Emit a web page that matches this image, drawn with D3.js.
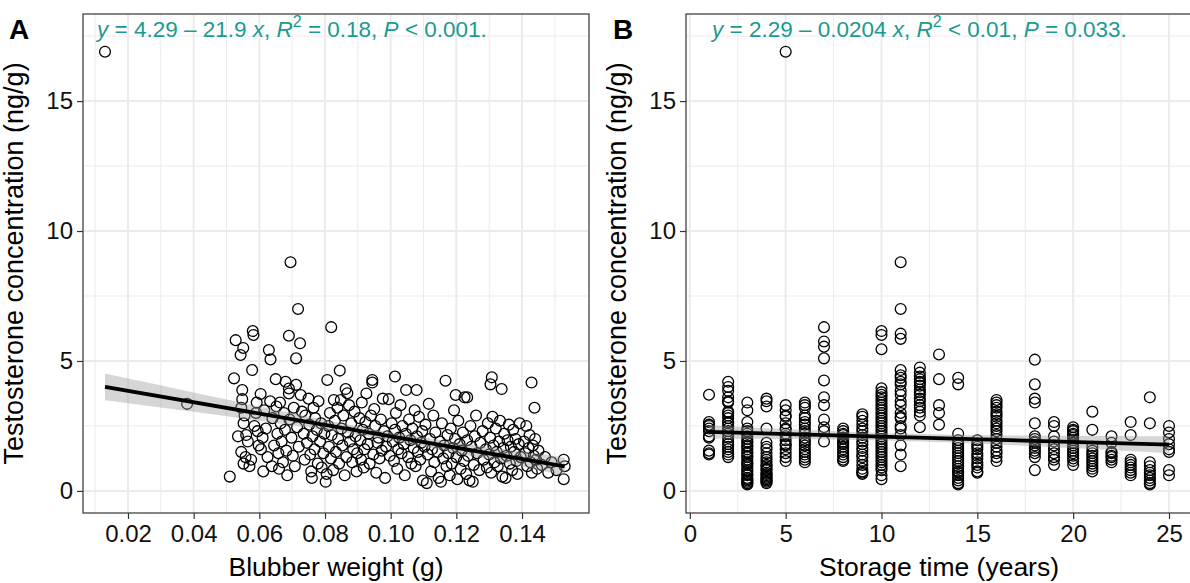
<!DOCTYPE html>
<html>
<head>
<meta charset="utf-8">
<script src="https://cdn.jsdelivr.net/npm/d3@7"></script>
<style>
  body { margin: 0; background: #fff; }
  svg { display: block; }
  text { font-family: "Liberation Sans", Arial, Helvetica, sans-serif; }
</style>
</head>
<body>
<svg id="chart" width="1190" height="583"></svg>
<script>
// Testosterone concentration (ng/g) against blubber sample weight (g)
const blubberPoints = [
  [0.013,16.9],[0.038,3.35],[0.051,0.55],
  [0.0528,5.8],[0.0551,5.5],[0.0543,5.23],[0.058,6.15],[0.0582,6.0],[0.0578,4.65],[0.0523,4.33],
  [0.0548,3.88],[0.0548,3.53],[0.0545,3.2],[0.0555,2.9],[0.0552,2.6],[0.0535,2.1],[0.056,2.15],
  [0.0565,1.9],[0.0545,1.5],[0.0558,1.3],[0.0552,1.05],[0.0585,2.5],[0.059,3.0],[0.0575,1.2],
  [0.057,0.95],[0.0598,1.75],[0.0595,2.3],[0.0592,3.4],
  [0.0604,3.73],[0.0629,5.42],[0.0634,5.06],[0.0633,3.45],[0.0615,3.1],[0.061,2.05],[0.0605,1.6],
  [0.0612,0.75],[0.062,2.4],[0.0625,1.3],[0.0638,0.95],[0.064,2.8],[0.0645,1.75],[0.065,4.3],
  [0.0652,3.25],[0.0655,2.2],[0.0658,1.45],[0.066,0.85],[0.0663,3.4],[0.0665,2.6],[0.0668,1.9],
  [0.0672,1.1],[0.0675,3.0],[0.0678,2.35],[0.068,4.2],[0.0682,1.55],[0.0685,0.6],[0.069,5.97],
  [0.069,3.94],[0.069,3.75],[0.0695,8.8],[0.0692,2.75],[0.0698,2.05],
  [0.0712,5.1],[0.0718,7.0],[0.0724,5.68],[0.0712,4.08],[0.0726,3.69],[0.0705,3.2],[0.0702,1.35],
  [0.0708,0.95],[0.0715,2.45],[0.072,1.7],[0.073,3.05],[0.0735,2.2],[0.0738,1.2],[0.074,2.9],
  [0.0745,1.85],[0.075,3.55],[0.0752,2.55],[0.0755,1.4],[0.0758,0.75],[0.076,0.5],[0.0762,2.1],
  [0.0765,3.2],[0.0768,1.6],[0.077,2.8],[0.0775,2.35],[0.0778,1.05],[0.078,3.45],[0.0785,1.9],
  [0.0788,2.6],[0.079,0.9],[0.0795,1.45],[0.0798,2.2],
  [0.0807,4.27],[0.0819,6.3],[0.0845,4.63],[0.0827,3.5],[0.0848,3.5],[0.0863,3.92],[0.0868,3.76],
  [0.0802,0.35],[0.0805,0.65],[0.081,2.5],[0.0812,1.7],[0.0815,3.0],[0.0818,1.25],[0.082,2.15],
  [0.0825,0.8],[0.083,2.7],[0.0833,1.5],[0.0838,3.2],[0.084,2.0],[0.0843,1.05],[0.085,2.4],
  [0.0853,1.75],[0.0856,2.9],[0.086,0.6],[0.0865,1.3],[0.087,2.25],[0.0873,3.3],[0.0876,1.9],
  [0.088,2.6],[0.0883,1.1],[0.0886,1.6],[0.089,3.05],[0.0893,2.1],[0.0896,0.75],[0.0898,1.45],
  [0.0944,4.27],[0.0944,4.17],[0.0905,2.8],[0.0908,1.95],[0.091,1.2],[0.0912,3.4],[0.0915,2.35],
  [0.0918,0.9],[0.092,1.6],[0.0923,2.65],[0.0926,3.75],[0.093,1.8],[0.0933,2.2],[0.0936,1.05],
  [0.094,2.9],[0.0947,1.4],[0.095,3.15],[0.0953,2.5],[0.0956,0.7],[0.096,1.85],[0.0963,2.05],
  [0.0966,1.25],[0.097,2.75],[0.0973,1.55],[0.0976,3.55],[0.098,2.3],[0.0983,0.5],[0.0986,1.7],
  [0.099,2.1],[0.0994,3.53],[0.0997,1.35],
  [0.1013,4.4],[0.1003,2.6],[0.1006,1.9],[0.101,1.15],[0.1013,2.35],[0.1016,3.0],[0.102,0.85],
  [0.1023,1.6],[0.1026,2.05],[0.103,3.3],[0.1033,1.45],[0.1036,2.5],[0.104,1.8],[0.1043,0.6],
  [0.1046,2.2],[0.1047,3.88],[0.1079,3.88],[0.1053,1.3],[0.1056,2.75],[0.106,1.95],[0.1063,1.05],
  [0.1066,2.4],[0.107,1.65],[0.1073,3.1],[0.1076,0.95],[0.108,2.1],[0.1083,1.5],[0.1086,2.85],
  [0.109,1.2],[0.1093,1.85],[0.1096,2.3],[0.1098,0.4],
  [0.1103,1.7],[0.1106,2.55],[0.111,0.3],[0.1113,1.4],[0.1116,3.35],[0.112,2.0],[0.1123,0.75],
  [0.1126,1.6],[0.113,2.9],[0.1133,1.1],[0.1136,2.25],[0.1167,4.24],[0.1143,1.5],[0.1146,0.5],
  [0.115,1.9],[0.1153,0.35],[0.1156,2.6],[0.116,1.25],[0.1163,1.75],[0.1198,3.69],[0.117,0.95],
  [0.1173,2.15],[0.1176,1.45],[0.118,0.6],[0.1183,2.4],[0.1186,1.05],[0.119,1.65],[0.1193,3.1],
  [0.1196,2.0],
  [0.12,1.3],[0.1203,0.45],[0.1206,2.7],[0.121,1.8],[0.1213,0.85],[0.1216,1.55],[0.122,2.25],
  [0.1223,1.15],[0.1225,3.6],[0.1233,3.6],[0.123,0.65],[0.1233,1.95],[0.1236,1.35],[0.124,0.4],
  [0.1243,2.5],[0.1246,1.7],[0.125,0.35],[0.1253,1.0],[0.1256,2.1],[0.126,2.9],[0.1263,1.45],
  [0.127,0.8],[0.1273,1.85],[0.128,2.3],[0.1283,1.2],[0.129,1.6],[0.1293,0.9],[0.1296,2.6],
  [0.1308,4.37],[0.1304,4.1],[0.1338,3.92],
  [0.13,1.4],[0.1303,2.05],[0.1306,0.7],[0.131,2.85],[0.1313,1.75],[0.1316,1.1],[0.132,2.4],
  [0.1323,1.5],[0.1326,0.95],[0.133,1.9],[0.1333,2.7],[0.1336,1.25],[0.134,0.55],[0.1343,1.65],
  [0.1346,2.2],[0.135,0.5],[0.1353,1.35],[0.1356,1.95],[0.136,2.55],[0.1363,1.05],[0.1366,1.7],
  [0.137,0.8],[0.1373,2.35],[0.1376,1.5],[0.138,2.0],[0.1383,1.15],[0.1386,0.65],[0.139,1.8],
  [0.1393,2.6],[0.1396,1.3],[0.1429,4.17],[0.1438,3.2],[0.1406,1.9],[0.141,1.45],[0.1413,2.5],
  [0.1416,0.95],[0.142,1.65],[0.1423,2.15],[0.1426,1.1],[0.143,0.7],[0.1433,1.75],[0.1436,1.35],
  [0.144,2.0],[0.1443,1.2],[0.1446,0.85],[0.145,1.55],[0.146,1.0],[0.147,1.3],[0.148,0.7],
  [0.149,1.1],[0.1505,0.8],[0.1527,1.2],[0.153,0.95],[0.1527,0.45]
];

// Testosterone concentration (ng/g) grouped by storage time (years)
const storageGroups = [
  [1,  [3.7,2.65,2.55,2.5,2.4,2.3,2.1,2.05,1.55,1.45,1.4]],
  [2,  [4.2,4.0,3.85,3.6,3.45,3.4,3.05,3.0,2.9,2.8,2.65,2.6,2.5,2.4,2.3,2.2,2.05,1.9,1.8,1.7,1.6,1.5,1.4,1.3]],
  [3,  [3.4,3.1,2.65,2.4,2.3,2.2,2.1,2.0,1.9,1.85,1.75,1.7,1.6,1.5,1.45,1.35,1.3,1.2,1.1,1.05,1.0,0.9,0.8,0.75,0.65,0.6,0.5,0.45,0.4,0.35,0.3,0.25]],
  [4,  [3.55,3.45,3.25,2.4,1.85,1.7,1.6,1.45,1.3,1.2,1.1,1.0,0.95,0.85,0.8,0.7,0.65,0.6,0.55,0.5,0.45,0.4,0.35,0.3]],
  [5,  [16.9,3.3,3.1,2.9,2.85,2.6,2.4,2.35,2.2,2.1,1.95,1.8,1.75,1.6,1.45,1.3,1.15]],
  [6,  [3.4,3.3,3.2,2.9,2.8,2.65,2.55,2.4,2.3,2.2,2.05,1.95,1.85,1.75,1.6,1.5,1.4,1.3,1.2,1.1]],
  [7,  [6.3,5.75,5.55,5.1,4.25,3.6,3.3,2.75,2.45,2.3,1.9]],
  [8,  [2.4,2.3,2.2,2.15,2.05,2.0,1.9,1.85,1.8,1.7,1.6,1.5,1.4,1.3,1.2,1.15]],
  [9,  [2.95,2.85,2.7,2.55,2.4,2.3,2.15,2.05,1.9,1.8,1.65,1.55,1.4,1.3,1.15,1.0,0.85,0.75,0.7,0.65]],
  [10, [6.15,6.0,5.45,3.95,3.8,3.7,3.6,3.5,3.4,3.3,3.2,3.1,3.0,2.9,2.8,2.7,2.6,2.5,2.4,2.3,2.2,2.1,2.0,1.9,1.8,1.7,1.6,1.5,1.4,1.3,1.2,1.1,1.0,0.9,0.8,0.6,0.45]],
  [11, [8.8,7.0,6.05,5.85,4.65,4.45,4.35,4.2,4.1,3.85,3.7,3.45,3.3,3.0,2.85,2.8,2.5,2.4,2.15,1.75,1.4,0.95]],
  [12, [4.75,4.55,4.4,4.3,4.2,4.15,4.05,3.9,3.8,3.7,3.55,3.45,3.3,3.2,3.05,2.9,2.45]],
  [13, [5.25,4.3,3.3,3.0,2.55]],
  [14, [4.35,4.1,2.2,1.95,1.85,1.75,1.65,1.55,1.45,1.35,1.25,1.15,1.05,0.95,0.85,0.75,0.7,0.6,0.5,0.4,0.3,0.25]],
  [15, [1.95,1.8,1.7,1.6,1.45,1.35,1.25,1.1,1.0,0.9,0.75,0.7]],
  [16, [3.5,3.4,3.3,3.2,3.05,2.95,2.85,2.7,2.6,2.5,2.4,2.3,2.15,2.0,1.85,1.7,1.55,1.45,1.3,1.15]],
  [18, [5.05,4.1,3.55,3.4,2.6,2.1,2.0,1.9,1.85,1.75,1.65,1.55,1.45,1.3,0.8]],
  [19, [2.65,2.5,2.1,1.9,1.75,1.6,1.45,1.3,1.2,1.0]],
  [20, [2.45,2.35,2.3,2.2,2.15,2.05,1.95,1.85,1.75,1.65,1.55,1.45,1.35,1.25,1.15,1.0]],
  [21, [3.05,2.35,1.7,1.55,1.45,1.35,1.25,1.15,1.05,0.95,0.85,0.75]],
  [22, [2.1,1.85,1.5,1.45,1.35,1.3,1.2,1.1]],
  [23, [2.65,2.15,1.2,1.1,1.0,0.9,0.8,0.7,0.6]],
  [24, [3.6,2.6,1.1,0.95,0.8,0.7,0.6,0.5,0.4,0.3,0.25]],
  [25, [2.5,2.25,2.0,1.8,1.6,1.5,0.8,0.6]]
];

// Fitted linear models: [intercept, slope]
const fitBlubber = [4.29, -21.9];
const fitStorage = [2.29, -0.0204];

// Tick values
const blubberTicks = [0.02, 0.04, 0.06, 0.08, 0.10, 0.12, 0.14];
const storageTicks = [0, 5, 10, 15, 20, 25];
const concTicks = [0, 5, 10, 15];

// Equation labels, split into runs of plain / italic / superscript text
const eqBlubber = [
  ["y", "i"], [" = 4.29 \u2013 21.9 ", ""], ["x", "i"], [", ", ""], ["R", "i"], ["2", "sup"],
  [" = 0.18, ", ""], ["P", "i"], [" < 0.001.", ""]
];
const eqStorage = [
  ["y", "i"], [" = 2.29 \u2013 0.0204 ", ""], ["x", "i"], [", ", ""], ["R", "i"], ["2", "sup"],
  [" < 0.01, ", ""], ["P", "i"], [" = 0.033.", ""]
];

const yTitle = "Testosterone concentration (ng/g)";

const svg = d3.select("#chart");
const ink = "#111";
const gridCol = "#ebebeb";
const teal = "#1b9a8e";

const plotTop = 14, plotBottom = 513;
const y = d3.scaleLinear().domain([-0.85, 18.35]).range([plotBottom, plotTop]);

const pointsA = blubberPoints.map(d => ({x: d[0], y: d[1]}));
const pointsB = storageGroups.flatMap(([yr, vals]) => vals.map(v => ({x: yr, y: v})));

function panel(opts) {
  const {x, points, fit, xTicks, xMinor, yMinor, fmt, xTitle, letter, letterX, titleX, eq, eqX} = opts;
  const [x0, x1] = x.range();
  const g = svg.append("g");

  // minor grid
  g.selectAll(".mx").data(xMinor).join("line")
    .attr("x1", d => x(d)).attr("x2", d => x(d)).attr("y1", plotTop).attr("y2", plotBottom)
    .attr("stroke", gridCol).attr("stroke-width", 1);
  g.selectAll(".my").data(yMinor).join("line")
    .attr("x1", x0).attr("x2", x1).attr("y1", d => y(d)).attr("y2", d => y(d))
    .attr("stroke", gridCol).attr("stroke-width", 1);
  // major grid
  g.selectAll(".gx").data(xTicks).join("line")
    .attr("x1", d => x(d)).attr("x2", d => x(d)).attr("y1", plotTop).attr("y2", plotBottom)
    .attr("stroke", gridCol).attr("stroke-width", 2);
  g.selectAll(".gy").data(concTicks).join("line")
    .attr("x1", x0).attr("x2", x1).attr("y1", d => y(d)).attr("y2", d => y(d))
    .attr("stroke", gridCol).attr("stroke-width", 2);

  // points
  g.selectAll("circle").data(points).join("circle")
    .attr("cx", d => x(d.x)).attr("cy", d => y(d.y)).attr("r", 5.4)
    .attr("fill", "none").attr("stroke", "#000").attr("stroke-width", 1.3);

  // regression with 95% confidence band
  const n = points.length;
  const xs = points.map(d => d.x);
  const xbar = d3.mean(xs);
  const sxx = d3.sum(xs, v => (v - xbar) ** 2);
  const pred = v => fit[0] + fit[1] * v;
  const s = Math.sqrt(d3.sum(points, d => (d.y - pred(d.x)) ** 2) / (n - 2));
  const [lo, hi] = d3.extent(xs);
  const grid = d3.range(0, 81).map(i => lo + (hi - lo) * i / 80);
  const band = grid.map(v => {
    const se = 1.965 * s * Math.sqrt(1 / n + (v - xbar) ** 2 / sxx);
    return {x: v, lo: pred(v) - se, hi: pred(v) + se};
  });
  g.append("path").datum(band)
    .attr("d", d3.area().x(d => x(d.x)).y0(d => y(d.lo)).y1(d => y(d.hi)))
    .attr("fill", "#999").attr("fill-opacity", 0.4);
  g.append("path").datum([lo, hi])
    .attr("d", d3.line().x(v => x(v)).y(v => y(pred(v))))
    .attr("stroke", "#000").attr("stroke-width", 3.8).attr("fill", "none");

  // frame
  g.append("rect").attr("x", x0).attr("y", plotTop).attr("width", x1 - x0).attr("height", plotBottom - plotTop)
    .attr("fill", "none").attr("stroke", "#333").attr("stroke-width", 1.2);

  // axes
  const ax = g.append("g").attr("transform", `translate(0,${plotBottom})`)
    .call(d3.axisBottom(x).tickValues(xTicks).tickFormat(fmt).tickSize(6).tickPadding(6));
  const ay = g.append("g").attr("transform", `translate(${x0},0)`)
    .call(d3.axisLeft(y).tickValues(concTicks).tickFormat(d3.format("d")).tickSize(6).tickPadding(4));
  [ax, ay].forEach(a => {
    a.select(".domain").remove();
    a.selectAll(".tick line").attr("stroke", "#333").attr("stroke-width", 1.2);
    a.selectAll(".tick text").attr("fill", ink).style("font-size", "24px")
      .style("font-family", "'Liberation Sans', Arial, sans-serif");
  });

  // titles
  g.append("text").attr("x", titleX).attr("y", 576).attr("text-anchor", "middle")
    .attr("fill", "#000").style("font-size", "26.5px").text(xTitle);
  g.append("text").attr("transform", `translate(${x0 - 60},${(plotTop + plotBottom) / 2}) rotate(-90)`)
    .attr("text-anchor", "middle").attr("fill", "#000").style("font-size", "27px").text(yTitle);
  g.append("text").attr("x", letterX).attr("y", 39).attr("fill", "#000")
    .style("font-size", "28px").style("font-weight", "bold").text(letter);

  // equation
  const t = g.append("text").attr("x", eqX).attr("y", 37).attr("fill", teal).style("font-size", "22.5px");
  eq.forEach(([str, kind], i) => {
    const sp = t.append("tspan").text(str);
    if (kind === "i") sp.style("font-style", "italic");
    if (kind === "sup") sp.attr("dy", -10).style("font-size", "16px");
    if (i > 0 && eq[i - 1][1] === "sup") sp.attr("dy", 10);
  });
}

const xA = d3.scaleLinear().domain([0.0063, 0.1604]).range([83, 589]);
panel({
  x: xA, points: pointsA, fit: fitBlubber, xTicks: blubberTicks,
  xMinor: [0.01, 0.03, 0.05, 0.07, 0.09, 0.11, 0.13, 0.15], yMinor: [2.5, 7.5, 12.5, 17.5],
  fmt: d3.format(".2f"), xTitle: "Blubber weight (g)", letter: "A", letterX: 9, titleX: 336,
  eq: eqBlubber, eqX: 97
});

const xB = d3.scaleLinear().domain([-0.2, 26.2]).range([686, 1192]);
panel({
  x: xB, points: pointsB, fit: fitStorage, xTicks: storageTicks,
  xMinor: [2.5, 7.5, 12.5, 17.5, 22.5], yMinor: [2.5, 7.5, 12.5, 17.5],
  fmt: d3.format("d"), xTitle: "Storage time (years)", letter: "B", letterX: 613, titleX: 939,
  eq: eqStorage, eqX: 712
});
</script>
</body>
</html>
